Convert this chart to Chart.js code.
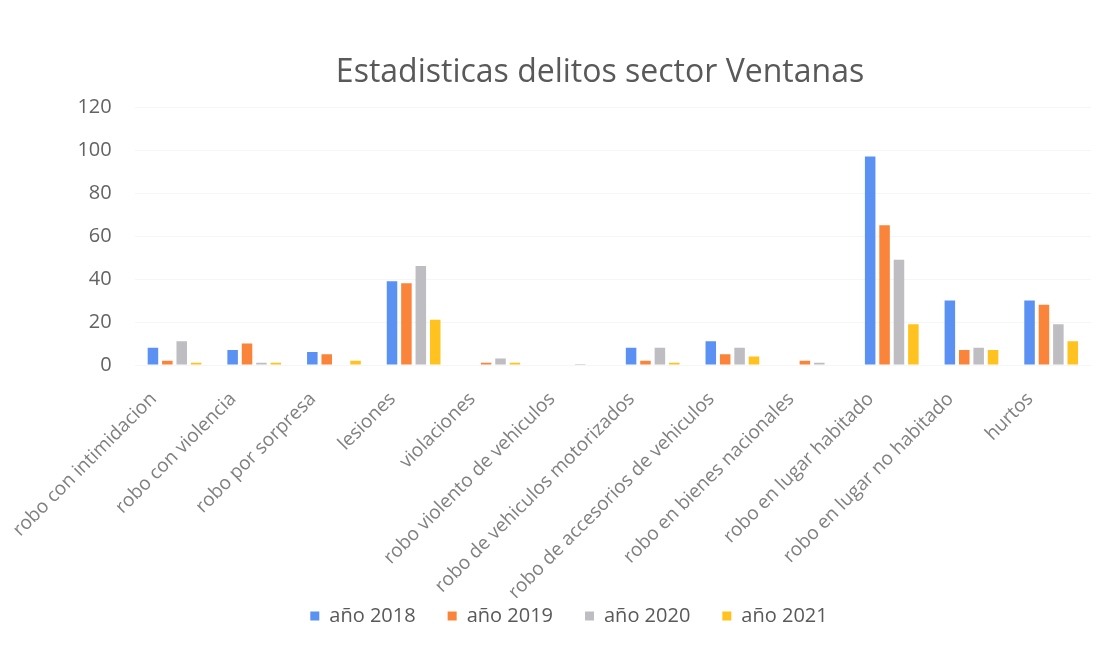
<!DOCTYPE html>
<html>
<head>
<meta charset="utf-8">
<script src="https://cdn.jsdelivr.net/npm/chart.js@4.4.1/dist/chart.umd.min.js"></script>
<style>
  html, body { margin: 0; padding: 0; background: #ffffff; }
  #wrap { position: relative; width: 1112px; height: 647px; }
</style>
</head>
<body>
<div id="wrap"><canvas id="c" width="1112" height="647"></canvas></div>
<script>
const categories = [
  "robo con intimidacion",
  "robo con violencia",
  "robo por sorpresa",
  "lesiones",
  "violaciones",
  "robo violento de vehiculos",
  "robo de vehiculos motorizados",
  "robo de accesorios de vehiculos",
  "robo en bienes nacionales",
  "robo en lugar habitado",
  "robo en lugar no habitado",
  "hurtos"
];
const seriesNames = ["año 2018", "año 2019", "año 2020", "año 2021"];
const values2018 = [8, 7, 6, 39, 0, 0, 8, 11, 0, 97, 30, 30];
const values2019 = [2, 10, 5, 38, 1, 0, 2, 5, 2, 65, 7, 28];
const values2020 = [11, 1, 0, 46, 3, 0.5, 8, 8, 1, 49, 8, 19];
const values2021 = [1, 1, 2, 21, 1, 0, 1, 4, 0, 19, 7, 11];
const yTicks = [0, 20, 40, 60, 80, 100, 120];
const chartTitle = "Estadisticas delitos sector Ventanas";

const colors = ["#5a91f2", "#f9843a", "#bdbdc2", "#ffc21f"];
const FONT = "'Open Sans', Lato, sans-serif";

const PLOT_BOTTOM = 365;
const LEGEND_TOP = 574;

const boxTweaks = {
  id: 'boxTweaks',
  afterLayout(chart) {
    const t = chart.titleBlock;
    if (t) { t.left += 31; t.right += 31; }
    const lg = chart.legend;
    if (lg) { lg.top = LEGEND_TOP; lg.bottom = chart.height; lg.height = lg.bottom - lg.top; }
  }
};

new Chart(document.getElementById('c'), {
  type: 'bar',
  data: {
    labels: categories,
    datasets: [values2018, values2019, values2020, values2021].map((v, i) => ({
      label: seriesNames[i],
      data: v,
      backgroundColor: colors[i],
      borderWidth: 0,
      categoryPercentage: 0.723,
      barPercentage: 0.73
    }))
  },
  options: {
    responsive: false,
    animation: false,
    devicePixelRatio: 1,
    layout: { padding: { left: 47, right: 21, top: 0, bottom: 0 } },
    plugins: {
      title: {
        display: true,
        text: chartTitle,
        color: '#595959',
        font: { family: FONT, size: 32, weight: 'normal', lineHeight: 1.2 },
        padding: { top: 54, bottom: 14.6 }
      },
      legend: {
        position: 'bottom',
        maxHeight: 22,
        labels: {
          color: '#595959',
          font: { family: FONT, size: 20 },
          boxWidth: 9,
          boxHeight: 9,
          padding: 32
        }
      },
      tooltip: { enabled: false }
    },
    scales: {
      x: {
        grid: { display: false },
        border: { display: false },
        ticks: {
          color: '#808080',
          font: { family: FONT, size: 19 },
          minRotation: 45,
          maxRotation: 45,
          autoSkip: false,
          padding: 15,
          labelOffset: -21
        },
        afterFit(scale) {
          const lh = scale.chart.legend ? scale.chart.legend.height : 0;
          scale.height = scale.chart.height - lh - PLOT_BOTTOM;
        }
      },
      y: {
        min: 0,
        max: 120,
        afterBuildTicks(scale) { scale.ticks = yTicks.map(v => ({ value: v })); },
        grid: { color: '#f6f6f6', drawTicks: false },
        border: { display: false },
        ticks: {
          color: '#636363',
          font: { family: FONT, size: 20 },
          padding: 23
        },
        afterFit(scale) { scale.width = 87.7; }
      }
    }
  },
  plugins: [boxTweaks]
});
</script>
</body>
</html>
